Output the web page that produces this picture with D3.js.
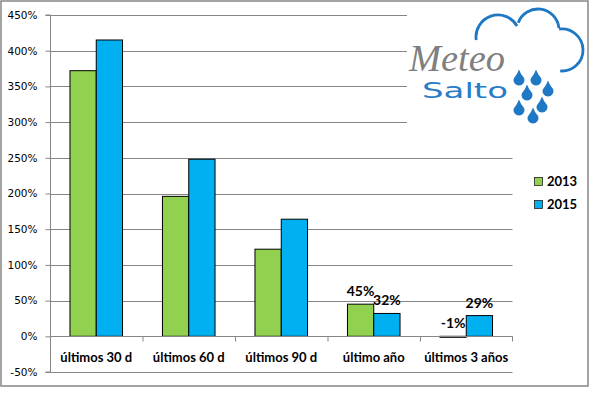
<!DOCTYPE html>
<html><head><meta charset="utf-8">
<script src="https://cdn.jsdelivr.net/npm/d3@7"></script>
<style>html,body{margin:0;padding:0;background:#fff}svg{display:block}</style>
</head><body>
<script>
const categories = ["últimos 30 d","últimos 60 d","últimos 90 d","último año","últimos 3 años"];
const seriesNames = ["2013","2015"];
const values2013 = [3.72, 1.96, 1.22, 0.45, -0.01];
const values2015 = [4.15, 2.48, 1.64, 0.32, 0.29];
const showLabel = [false, false, false, true, true];
const yTicks = [-0.5,0,0.5,1,1.5,2,2.5,3,3.5,4,4.5];
const colors = ["#92D050","#00B0F0"];

const W=595,H=394;
const svg=d3.select("body").append("svg").attr("width",W).attr("height",H);
svg.append("rect").attr("x",1).attr("y",1).attr("width",587).attr("height",385)
  .attr("fill","#fff").attr("stroke","#868686").attr("stroke-width",1.5);

const x=d3.scaleBand().domain(categories).range([50,512.5]).paddingInner(0).paddingOuter(0);
const x1=d3.scaleBand().domain(seriesNames).range([0,x.bandwidth()]).paddingInner(0).paddingOuter(0.76);
const y=d3.scaleLinear().domain([-0.5,4.5]).range([372,15]);

// gridlines
svg.append("g").selectAll("line").data(yTicks).join("line")
  .attr("x1",50).attr("x2",512.5).attr("y1",d=>Math.round(y(d))+0.5).attr("y2",d=>Math.round(y(d))+0.5)
  .attr("stroke","#868686").attr("stroke-width",1);

// y axis
const yAxis=d3.axisLeft(y).tickValues(yTicks).tickFormat(d=>Math.round(d*100)+"%").tickSize(5).tickPadding(8);
const ga=svg.append("g").attr("transform","translate(50.5,0)").call(yAxis);
ga.selectAll("path,line").attr("stroke","#868686");
ga.selectAll("text").attr("font-family","DejaVu Sans").attr("font-size","10.5px").attr("fill","#000");
ga.select(".domain").attr("d","M-5,"+y(4.5)+"H0V"+y(-0.5)+"H-5");

const data=categories.map((c,i)=>({c,vals:[values2013[i],values2015[i]],lab:showLabel[i]}));
const groups=svg.append("g").selectAll("g").data(data).join("g").attr("transform",d=>`translate(${x(d.c)},0)`);
groups.selectAll("rect").data(d=>d.vals.map((v,j)=>({v,s:seriesNames[j],j}))).join("rect")
  .attr("x",d=>x1(d.s)).attr("width",x1.bandwidth())
  .attr("y",d=>y(Math.max(0,d.v))).attr("height",d=>Math.max(1,Math.abs(y(d.v)-y(0))))
  .attr("fill",d=>colors[d.j]).attr("stroke","#000").attr("stroke-width",1);

// x axis line at 0
const gx=svg.append("g").attr("transform",`translate(0,${Math.round(y(0))+0.5})`);
gx.append("line").attr("x1",50).attr("x2",512.5).attr("stroke","#868686");
gx.selectAll("line.t").data(categories.concat(["end"])).join("line").attr("class","t")
  .attr("x1",(d,i)=>i<categories.length?x(d)+0.5:512.5).attr("x2",(d,i)=>i<categories.length?x(d)+0.5:512.5)
  .attr("y1",0).attr("y2",5).attr("stroke","#868686");
gx.selectAll("text").data(categories).join("text")
  .attr("x",d=>x(d)+x.bandwidth()/2).attr("y",25).attr("text-anchor","middle")
  .attr("font-family","Lato").attr("font-weight","bold").attr("font-size","13px").text(d=>d);

// data labels
groups.filter(d=>d.lab).selectAll("text").data(d=>d.vals.map((v,j)=>({v,s:seriesNames[j]}))).join("text")
  .attr("x",d=>x1(d.s)+x1.bandwidth()/2).attr("y",d=>y(Math.max(0,d.v))-8)
  .attr("text-anchor","middle").attr("font-family","Lato").attr("font-weight","bold").attr("font-size","14px")
  .text(d=>Math.round(d.v*100)+"%");

// legend
const lg=svg.append("g").selectAll("g").data(seriesNames).join("g")
  .attr("transform",(d,i)=>`translate(534,${177+i*23})`);
lg.append("rect").attr("width",8).attr("height",8).attr("x",0.5).attr("y",0.5)
  .attr("fill",(d,i)=>colors[i]).attr("stroke","#222").attr("stroke-width",0.8);
lg.append("text").attr("x",13).attr("y",9).attr("font-family","Lato").attr("font-weight","bold")
  .attr("font-size","13px").text(d=>d);

// logo
const logo=svg.append("g");
logo.append("rect").attr("x",407).attr("y",5).attr("width",180).attr("height",123).attr("fill","#fff");
const blue="#1f78c4";
const arc=(cx,cy,r,a0,a1)=>{const p=d3.path();p.arc(cx,cy,r,a0*Math.PI/180,a1*Math.PI/180,false);return p.toString();};
logo.append("path").attr("d",arc(498,37,22,172,330)).attr("fill","none").attr("stroke",blue).attr("stroke-width",2.8);
logo.append("path").attr("d",arc(538,30,21,200,355)).attr("fill","none").attr("stroke",blue).attr("stroke-width",2.8);
logo.append("path").attr("d",arc(562,50,21,262,455)).attr("fill","none").attr("stroke",blue).attr("stroke-width",2.8);
logo.append("text").attr("x",409).attr("y",71).attr("font-family","Liberation Serif").attr("font-style","italic")
  .attr("font-size","37px").attr("fill","#7f7f7f").attr("textLength",96).attr("lengthAdjust","spacingAndGlyphs").text("Meteo");
logo.append("text").attr("x",422).attr("y",98).attr("font-family","DejaVu Sans").attr("font-weight","normal")
  .attr("font-size","22px").attr("fill","#2a7cc7").attr("textLength",86).attr("lengthAdjust","spacingAndGlyphs").text("Salto");
const drops=[[519,80],[536,80],[527,95],[548,91],[542,107],[519,110],[533,118]];
const dropPath=d3.path();
drops.forEach(([cx,cy])=>{
  const r=5.5;
  dropPath.moveTo(cx,cy-10.5);
  dropPath.quadraticCurveTo(cx-1.5,cy-6,cx-r*0.95,cy-1.5);
  dropPath.arc(cx,cy,r,Math.PI*1.1,Math.PI*1.9+Math.PI*0.0001,true);
  dropPath.quadraticCurveTo(cx+1.5,cy-6,cx,cy-10.5);
  dropPath.closePath();
});
logo.append("path").attr("d",dropPath.toString()).attr("fill",blue);
</script>
</body></html>
